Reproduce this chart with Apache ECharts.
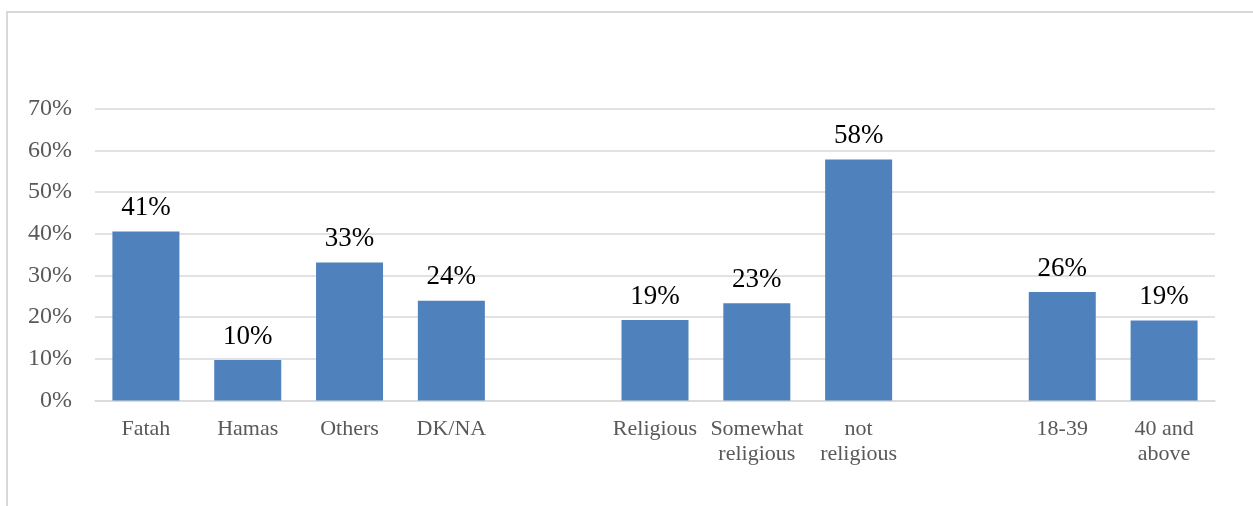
<!DOCTYPE html>
<html>
<head>
<meta charset="utf-8">
<script src="https://cdn.jsdelivr.net/npm/echarts@6/dist/echarts.min.js"></script>
<style>
html,body{margin:0;padding:0;background:#fff;}
#c{width:1253px;height:506px;}
</style>
</head>
<body>
<div id="c"></div>
<script>
const categories = ['Fatah', 'Hamas', 'Others', 'DK/NA', '', 'Religious', 'Somewhat\nreligious', 'not\nreligious', '', '18-39', '40 and\nabove'];
const values = [40.5, 9.7, 33.1, 23.9, null, 19.3, 23.3, 57.8, null, 26.0, 19.2];
const valueLabels = ['41%', '10%', '33%', '24%', '', '19%', '23%', '58%', '', '26%', '19%'];
const yTicks = [0, 10, 20, 30, 40, 50, 60, 70];

const chart = echarts.init(document.getElementById('c'), null, {renderer: 'canvas'});
const serif = '"Liberation Serif", "DejaVu Serif", serif';
chart.setOption({
  animation: false,
  backgroundColor: '#ffffff',
  graphic: [{
    type: 'rect',
    shape: {x: 7, y: 12, width: 1400, height: 700},
    style: {fill: 'none', stroke: '#d9d9d9', lineWidth: 2},
    silent: true
  }],
  grid: {left: 95, right: 38, top: 108.6, bottom: 105.5, containLabel: false},
  xAxis: {
    type: 'category',
    data: categories,
    axisLine: {show: true, lineStyle: {color: '#d9d9d9', width: 1.5}},
    axisTick: {show: false},
    axisLabel: {
      interval: 0,
      color: '#595959',
      fontFamily: serif,
      fontSize: 22,
      lineHeight: 25,
      margin: 16
    }
  },
  yAxis: {
    type: 'value',
    min: yTicks[0],
    max: yTicks[yTicks.length - 1],
    interval: 10,
    axisLine: {show: false},
    axisTick: {show: false},
    splitLine: {lineStyle: {color: '#d9d9d9', width: 1.5}},
    axisLabel: {
      color: '#595959',
      fontFamily: serif,
      fontSize: 24,
      margin: 23,
      formatter: v => v + '%'
    }
  },
  series: [{
    type: 'bar',
    data: values,
    barWidth: 67,
    itemStyle: {color: '#4F81BD'},
    label: {
      show: true,
      position: 'top',
      distance: 10,
      color: '#000000',
      fontFamily: serif,
      fontSize: 27,
      formatter: p => valueLabels[p.dataIndex]
    }
  }]
});
</script>
</body>
</html>
